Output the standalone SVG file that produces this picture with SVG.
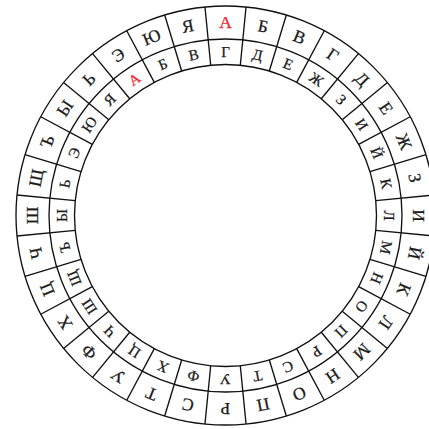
<svg xmlns="http://www.w3.org/2000/svg" width="429" height="429" viewBox="0 0 429 429">
<style>
.c{fill:none;stroke:#111;stroke-width:1.35}
.s line{stroke:#111;stroke-width:1.35}
.o{font-family:"Liberation Serif","DejaVu Serif",serif;font-size:17.5px;text-anchor:middle;fill:#1a1a1a;stroke:#1a1a1a;stroke-width:0.25}
.i{font-family:"Liberation Serif","DejaVu Serif",serif;font-size:15px;text-anchor:middle;fill:#1a1a1a;stroke:#1a1a1a;stroke-width:0.25}
.r{fill:#f5222a;stroke:#f5222a}
</style>
<rect width="429" height="429" fill="#fff"/>
<g transform="translate(225.5 215.5)">
<g id="rings">
<circle class="c" r="209.5"/>
<circle class="c" r="176.5"/>
<circle class="c" r="151"/>
</g>
<g id="dividers" class="s">
<line y1="-151" y2="-209.5" transform="rotate(5.625)"/>
<line y1="-151" y2="-209.5" transform="rotate(16.875)"/>
<line y1="-151" y2="-209.5" transform="rotate(28.125)"/>
<line y1="-151" y2="-209.5" transform="rotate(39.375)"/>
<line y1="-151" y2="-209.5" transform="rotate(50.625)"/>
<line y1="-151" y2="-209.5" transform="rotate(61.875)"/>
<line y1="-151" y2="-209.5" transform="rotate(73.125)"/>
<line y1="-151" y2="-209.5" transform="rotate(84.375)"/>
<line y1="-151" y2="-209.5" transform="rotate(95.625)"/>
<line y1="-151" y2="-209.5" transform="rotate(106.875)"/>
<line y1="-151" y2="-209.5" transform="rotate(118.125)"/>
<line y1="-151" y2="-209.5" transform="rotate(129.375)"/>
<line y1="-151" y2="-209.5" transform="rotate(140.625)"/>
<line y1="-151" y2="-209.5" transform="rotate(151.875)"/>
<line y1="-151" y2="-209.5" transform="rotate(163.125)"/>
<line y1="-151" y2="-209.5" transform="rotate(174.375)"/>
<line y1="-151" y2="-209.5" transform="rotate(185.625)"/>
<line y1="-151" y2="-209.5" transform="rotate(196.875)"/>
<line y1="-151" y2="-209.5" transform="rotate(208.125)"/>
<line y1="-151" y2="-209.5" transform="rotate(219.375)"/>
<line y1="-151" y2="-209.5" transform="rotate(230.625)"/>
<line y1="-151" y2="-209.5" transform="rotate(241.875)"/>
<line y1="-151" y2="-209.5" transform="rotate(253.125)"/>
<line y1="-151" y2="-209.5" transform="rotate(264.375)"/>
<line y1="-151" y2="-209.5" transform="rotate(275.625)"/>
<line y1="-151" y2="-209.5" transform="rotate(286.875)"/>
<line y1="-151" y2="-209.5" transform="rotate(298.125)"/>
<line y1="-151" y2="-209.5" transform="rotate(309.375)"/>
<line y1="-151" y2="-209.5" transform="rotate(320.625)"/>
<line y1="-151" y2="-209.5" transform="rotate(331.875)"/>
<line y1="-151" y2="-209.5" transform="rotate(343.125)"/>
<line y1="-151" y2="-209.5" transform="rotate(354.375)"/>
</g>
<g id="outer-ring">
<text class="o r" transform="rotate(0) translate(0 -193)" y="5.8">А</text>
<text class="o" transform="rotate(11.25) translate(0 -193)" y="5.8">Б</text>
<text class="o" transform="rotate(22.5) translate(0 -193)" y="5.8">В</text>
<text class="o" transform="rotate(33.75) translate(0 -193)" y="5.8">Г</text>
<text class="o" transform="rotate(45) translate(0 -193)" y="5.8">Д</text>
<text class="o" transform="rotate(56.25) translate(0 -193)" y="5.8">Е</text>
<text class="o" transform="rotate(67.5) translate(0 -193)" y="5.8">Ж</text>
<text class="o" transform="rotate(78.75) translate(0 -193)" y="5.8">З</text>
<text class="o" transform="rotate(90) translate(0 -193)" y="5.8">И</text>
<text class="o" transform="rotate(101.25) translate(0 -193)" y="5.8">Й</text>
<text class="o" transform="rotate(112.5) translate(0 -193)" y="5.8">К</text>
<text class="o" transform="rotate(123.75) translate(0 -193)" y="5.8">Л</text>
<text class="o" transform="rotate(135) translate(0 -193)" y="5.8">М</text>
<text class="o" transform="rotate(146.25) translate(0 -193)" y="5.8">Н</text>
<text class="o" transform="rotate(157.5) translate(0 -193)" y="5.8">О</text>
<text class="o" transform="rotate(168.75) translate(0 -193)" y="5.8">П</text>
<text class="o" transform="rotate(180) translate(0 -193)" y="5.8">Р</text>
<text class="o" transform="rotate(191.25) translate(0 -193)" y="5.8">С</text>
<text class="o" transform="rotate(202.5) translate(0 -193)" y="5.8">Т</text>
<text class="o" transform="rotate(213.75) translate(0 -193)" y="5.8">У</text>
<text class="o" transform="rotate(225) translate(0 -193)" y="5.8">Ф</text>
<text class="o" transform="rotate(236.25) translate(0 -193)" y="5.8">Х</text>
<text class="o" transform="rotate(247.5) translate(0 -193)" y="5.8">Ц</text>
<text class="o" transform="rotate(258.75) translate(0 -193)" y="5.8">Ч</text>
<text class="o" transform="rotate(270) translate(0 -193)" y="5.8">Ш</text>
<text class="o" transform="rotate(281.25) translate(0 -193)" y="5.8">Щ</text>
<text class="o" transform="rotate(292.5) translate(0 -193)" y="5.8">Ъ</text>
<text class="o" transform="rotate(303.75) translate(0 -193)" y="5.8">Ы</text>
<text class="o" transform="rotate(315) translate(0 -193)" y="5.8">Ь</text>
<text class="o" transform="rotate(326.25) translate(0 -193)" y="5.8">Э</text>
<text class="o" transform="rotate(337.5) translate(0 -193)" y="5.8">Ю</text>
<text class="o" transform="rotate(348.75) translate(0 -193)" y="5.8">Я</text>
</g>
<g id="inner-ring">
<text class="i" transform="rotate(0) translate(0 -163.75)" y="5">Г</text>
<text class="i" transform="rotate(11.25) translate(0 -163.75)" y="5">Д</text>
<text class="i" transform="rotate(22.5) translate(0 -163.75)" y="5">Е</text>
<text class="i" transform="rotate(33.75) translate(0 -163.75)" y="5">Ж</text>
<text class="i" transform="rotate(45) translate(0 -163.75)" y="5">З</text>
<text class="i" transform="rotate(56.25) translate(0 -163.75)" y="5">И</text>
<text class="i" transform="rotate(67.5) translate(0 -163.75)" y="5">Й</text>
<text class="i" transform="rotate(78.75) translate(0 -163.75)" y="5">К</text>
<text class="i" transform="rotate(90) translate(0 -163.75)" y="5">Л</text>
<text class="i" transform="rotate(101.25) translate(0 -163.75)" y="5">М</text>
<text class="i" transform="rotate(112.5) translate(0 -163.75)" y="5">Н</text>
<text class="i" transform="rotate(123.75) translate(0 -163.75)" y="5">О</text>
<text class="i" transform="rotate(135) translate(0 -163.75)" y="5">П</text>
<text class="i" transform="rotate(146.25) translate(0 -163.75)" y="5">Р</text>
<text class="i" transform="rotate(157.5) translate(0 -163.75)" y="5">С</text>
<text class="i" transform="rotate(168.75) translate(0 -163.75)" y="5">Т</text>
<text class="i" transform="rotate(180) translate(0 -163.75)" y="5">У</text>
<text class="i" transform="rotate(191.25) translate(0 -163.75)" y="5">Ф</text>
<text class="i" transform="rotate(202.5) translate(0 -163.75)" y="5">Х</text>
<text class="i" transform="rotate(213.75) translate(0 -163.75)" y="5">Ц</text>
<text class="i" transform="rotate(225) translate(0 -163.75)" y="5">Ч</text>
<text class="i" transform="rotate(236.25) translate(0 -163.75)" y="5">Ш</text>
<text class="i" transform="rotate(247.5) translate(0 -163.75)" y="5">Щ</text>
<text class="i" transform="rotate(258.75) translate(0 -163.75)" y="5">Ъ</text>
<text class="i" transform="rotate(270) translate(0 -163.75)" y="5">Ы</text>
<text class="i" transform="rotate(281.25) translate(0 -163.75)" y="5">Ь</text>
<text class="i" transform="rotate(292.5) translate(0 -163.75)" y="5">Э</text>
<text class="i" transform="rotate(303.75) translate(0 -163.75)" y="5">Ю</text>
<text class="i" transform="rotate(315) translate(0 -163.75)" y="5">Я</text>
<text class="i r" transform="rotate(326.25) translate(0 -163.75)" y="5">А</text>
<text class="i" transform="rotate(337.5) translate(0 -163.75)" y="5">Б</text>
<text class="i" transform="rotate(348.75) translate(0 -163.75)" y="5">В</text>
</g>
</g>
</svg>
